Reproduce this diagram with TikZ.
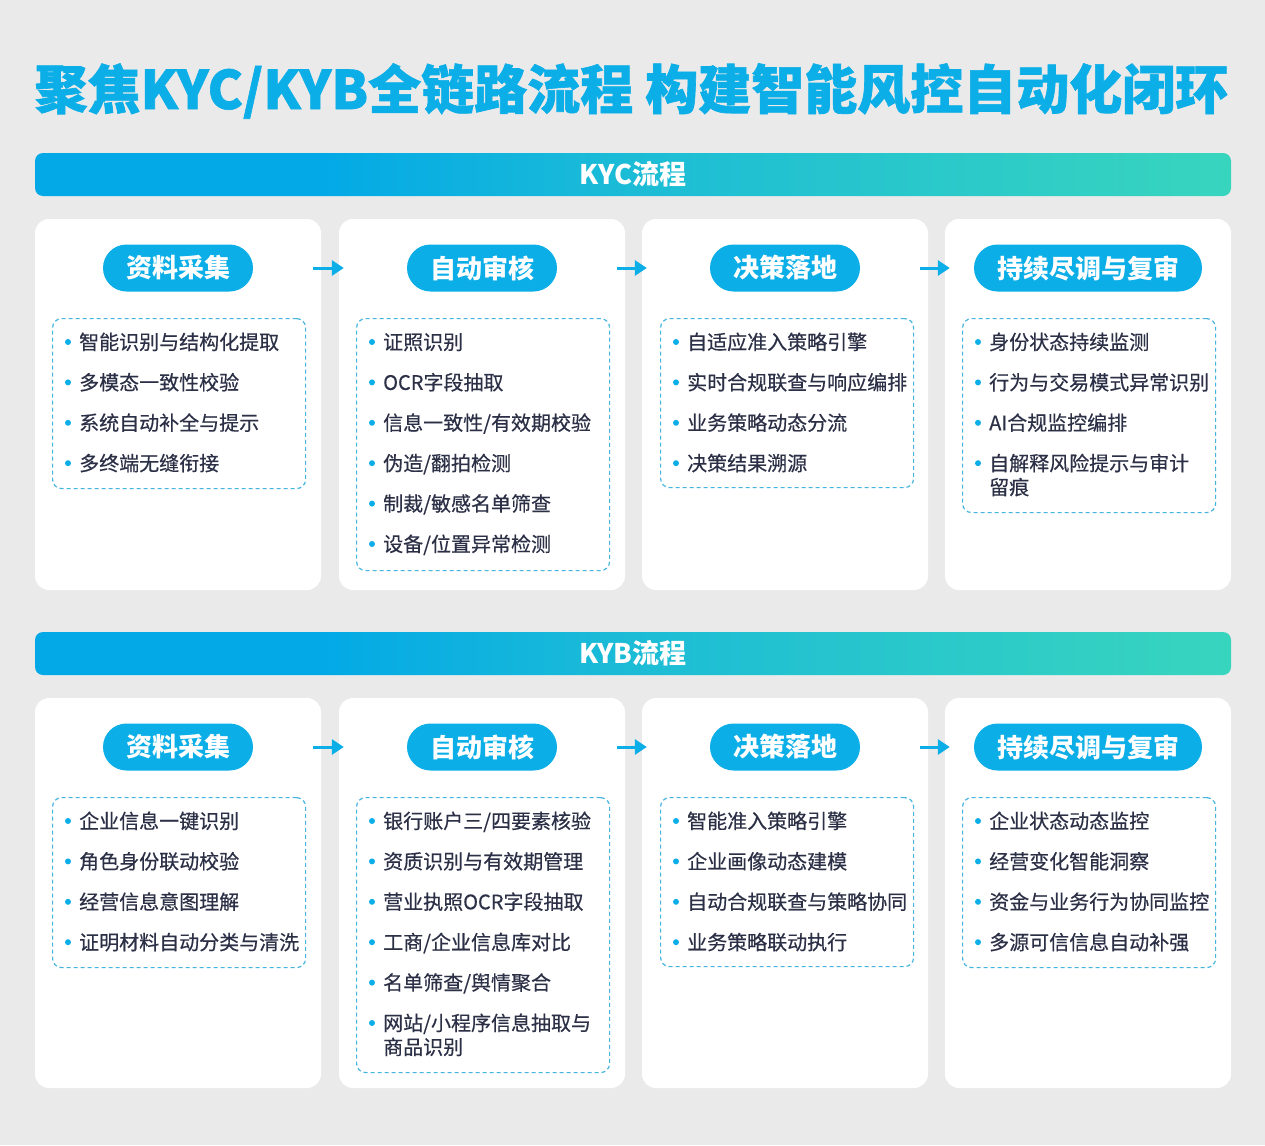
\documentclass[tikz,border=0pt]{standalone}
\usepackage{fontspec}
\setmainfont{Noto Sans CJK SC}
\newfontfamily\titlefont{Noto Sans CJK SC}[BoldFeatures={FakeBold=1.2}]
\newfontfamily\itemfont{Noto Sans CJK SC}[FakeBold=0.45]
\usetikzlibrary{arrows.meta,calc}
\definecolor{bgc}{HTML}{EAEAEA}
\definecolor{mainblue}{HTML}{0BAEE7}
\definecolor{bannerL}{HTML}{03A9E6}
\definecolor{bannerM}{HTML}{1CBCD6}
\definecolor{tealc}{HTML}{38D5BE}
\definecolor{txt}{HTML}{2C3046}
\definecolor{dashc}{HTML}{45B5DE}
\pgfdeclarehorizontalshading{bannershade}{100bp}{color(0bp)=(bannerL); color(25bp)=(bannerL); color(37bp)=(bannerL); color(50bp)=(bannerM); color(75bp)=(tealc); color(100bp)=(tealc)}
\tikzset{
  card/.style={fill=white, rounded corners=14pt, minimum width=286pt, inner sep=0pt},
  pill/.style={fill=mainblue, rounded corners=23.5pt, minimum height=47pt, inner xsep=23pt, inner ysep=0pt, text=white, font=\bfseries\fontsize{26}{30}\selectfont},
  dbox/.style={draw=dashc, dash pattern=on 4pt off 3pt, line width=1.2pt, rounded corners=9pt, minimum width=253pt, inner sep=0pt, anchor=north west},
  itemtxt/.style={text=txt, font=\itemfont\fontsize{20}{24}\selectfont, anchor=base west, inner sep=0pt},
  bul/.style={circle, fill=mainblue, inner sep=0pt, minimum size=6pt},
  arr/.style={draw=mainblue, line width=3pt, -{Triangle[width=15pt,length=12pt]}, shorten <=-8pt, shorten >=-5pt},
  banner/.style={rounded corners=8pt, shading=bannershade, minimum width=1196pt, minimum height=43pt, inner sep=0pt, text=white, font=\bfseries\fontsize{27}{32}\selectfont},
  titletxt/.style={text=mainblue, font=\titlefont\bfseries\fontsize{53}{60}\selectfont, inner sep=0pt}
}
\newcommand{\itemlist}[4]{%
  \foreach \t [count=\i] in {#4} {
    \node[bul] (#1b\i) at ({#2+16}, {#3+40.4*(\i-1)}) {};
    \node[itemtxt] (#1t\i) at ({#2+27}, {#3+7.5+40.4*(\i-1)}) {\t};
  }
}
\begin{document}
\begin{tikzpicture}[x=1pt,y=-1pt]
\useasboundingbox (0,0) rectangle (1265,1145);
\fill[bgc] (0,0) rectangle (1265,1145);

\node[titletxt] (title) at (631.5,91) {聚焦KYC/KYB全链路流程 构建智能风控自动化闭环};

% ---------------- KYC ----------------
\node[banner] (kyc) at (633,174.5) {KYC流程};

\node[card, minimum height=371pt] (k1) at (178,404.5) {};
\node[card, minimum height=371pt] (k2) at (482,404.5) {};
\node[card, minimum height=371pt] (k3) at (785,404.5) {};
\node[card, minimum height=371pt] (k4) at (1088,404.5) {};

\node[pill] (kp1) at (178,268) {资料采集};
\node[pill] (kp2) at (482,268) {自动审核};
\node[pill] (kp3) at (785,268) {决策落地};
\node[pill] (kp4) at (1088,268) {持续尽调与复审};

\draw[arr] (k1.east |- kp1) -- (k2.west |- kp1);
\draw[arr] (k2.east |- kp2) -- (k3.west |- kp2);
\draw[arr] (k3.east |- kp3) -- (k4.west |- kp3);

\node[dbox, minimum height=170pt] (kb1) at (52,318) {};
\node[dbox, minimum height=252pt] (kb2) at (356,318) {};
\node[dbox, minimum height=169pt] (kb3) at (660,318) {};
\node[dbox, minimum height=194pt] (kb4) at (962,318) {};

\itemlist{ka}{52}{342}{智能识别与结构化提取,多模态一致性校验,系统自动补全与提示,多终端无缝衔接}
\itemlist{kb}{356}{342}{证照识别,OCR字段抽取,信息一致性/有效期校验,伪造/翻拍检测,制裁/敏感名单筛查,设备/位置异常检测}
\itemlist{kc}{660}{342}{自适应准入策略引擎,实时合规联查与响应编排,业务策略动态分流,决策结果溯源}
\itemlist{kd}{962}{342}{身份状态持续监测,行为与交易模式异常识别,AI合规监控编排,{\parbox[t]{230pt}{自解释风险提示与审计\\留痕}}}

% ---------------- KYB ----------------
\node[banner] (kyb) at (633,653.5) {KYB流程};

\node[card, minimum height=390pt] (b1) at (178,893) {};
\node[card, minimum height=390pt] (b2) at (482,893) {};
\node[card, minimum height=390pt] (b3) at (785,893) {};
\node[card, minimum height=390pt] (b4) at (1088,893) {};

\node[pill] (bp1) at (178,747) {资料采集};
\node[pill] (bp2) at (482,747) {自动审核};
\node[pill] (bp3) at (785,747) {决策落地};
\node[pill] (bp4) at (1088,747) {持续尽调与复审};

\draw[arr] (b1.east |- bp1) -- (b2.west |- bp1);
\draw[arr] (b2.east |- bp2) -- (b3.west |- bp2);
\draw[arr] (b3.east |- bp3) -- (b4.west |- bp3);

\node[dbox, minimum height=170pt] (bb1) at (52,797) {};
\node[dbox, minimum height=275pt] (bb2) at (356,797) {};
\node[dbox, minimum height=169pt] (bb3) at (660,797) {};
\node[dbox, minimum height=170pt] (bb4) at (962,797) {};

\itemlist{ba}{52}{821}{企业信息一键识别,角色身份联动校验,经营信息意图理解,证明材料自动分类与清洗}
\itemlist{bb}{356}{821}{银行账户三/四要素核验,资质识别与有效期管理,营业执照OCR字段抽取,工商/企业信息库对比,名单筛查/舆情聚合,{\parbox[t]{230pt}{网站/小程序信息抽取与\\商品识别}}}
\itemlist{bc}{660}{821}{智能准入策略引擎,企业画像动态建模,自动合规联查与策略协同,业务策略联动执行}
\itemlist{bd}{962}{821}{企业状态动态监控,经营变化智能洞察,资金与业务行为协同监控,多源可信信息自动补强}
\end{tikzpicture}
\end{document}
